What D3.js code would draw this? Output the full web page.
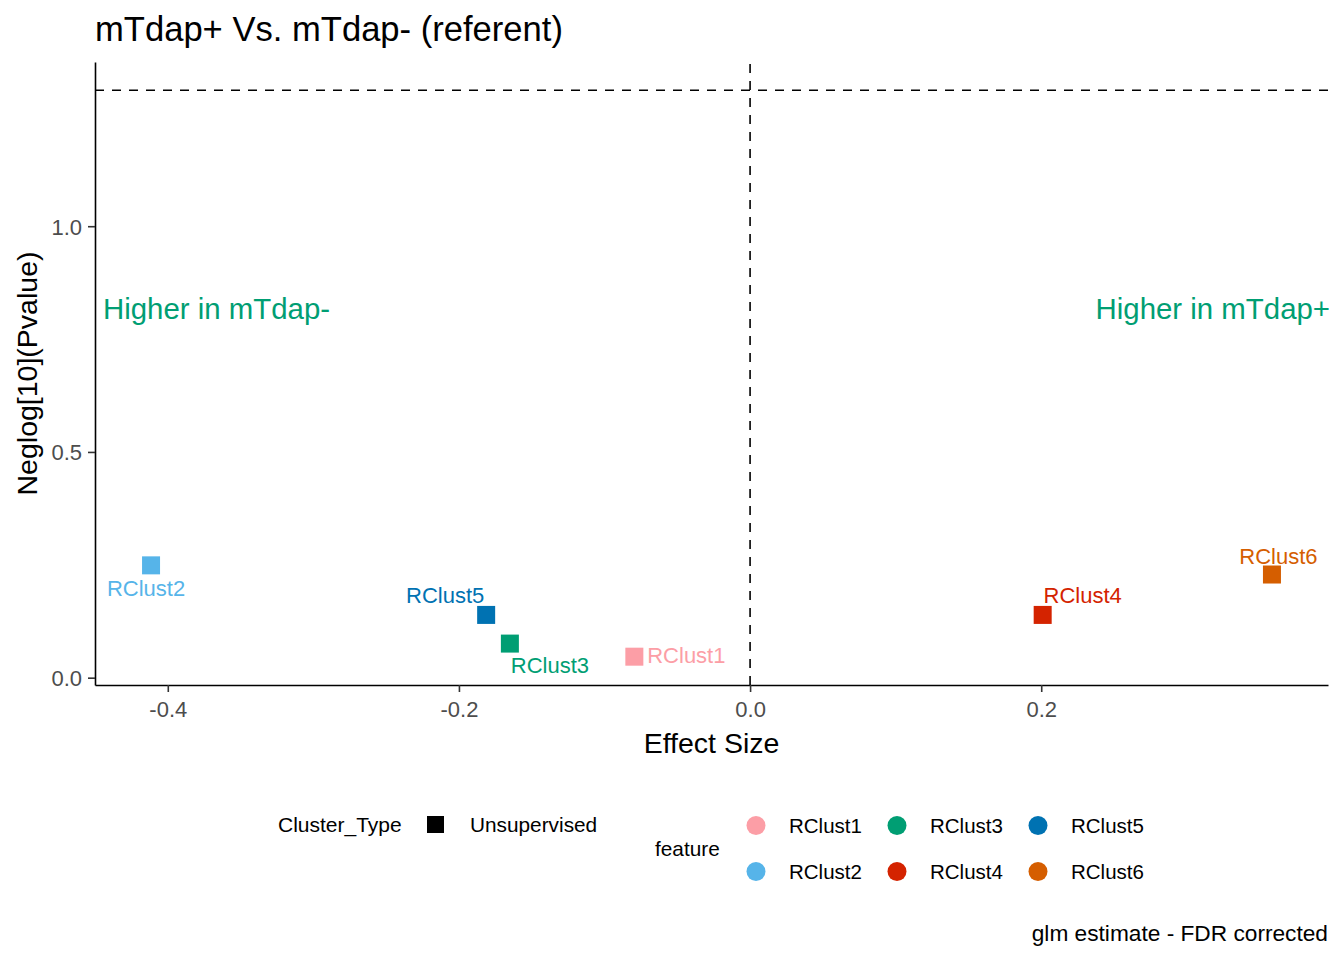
<!DOCTYPE html>
<html>
<head>
<meta charset="utf-8">
<script src="https://cdn.jsdelivr.net/npm/d3@7"></script>
<style>
  body { margin: 0; background: #fff; }
  text { font-family: "Liberation Sans", Arial, sans-serif; }
</style>
</head>
<body>
<svg id="chart" width="1344" height="960"></svg>
<script>
// values
const features = ["RClust1", "RClust2", "RClust3", "RClust4", "RClust5", "RClust6"];
const effectSize = [-0.0795, -0.4115, -0.165, 0.201, -0.1813, 0.3585];
const negLogP = [0.0465, 0.2488, 0.0755, 0.139, 0.139, 0.2285];
const clusterType = ["Unsupervised", "Unsupervised", "Unsupervised", "Unsupervised", "Unsupervised", "Unsupervised"];
const featureColors = ["#FC9EA6", "#56B4E9", "#009E73", "#D42300", "#0072B2", "#D55E00"];
const xTicks = [-0.4, -0.2, 0.0, 0.2];
const yTicks = [0.0, 0.5, 1.0];
const pThreshold = 1.301; // -log10(0.05)

// label nudges in pixels (text centre x, baseline y relative to point)
const labelNudge = {
  RClust1: [52, 6],
  RClust2: [-5, 31],
  RClust3: [40, 29],
  RClust4: [40, -11.5],
  RClust5: [-41, -11.5],
  RClust6: [6.5, -11]
};

const data = features.map((f, i) => ({
  feature: f,
  x: effectSize[i],
  y: negLogP[i],
  type: clusterType[i],
  color: featureColors[i]
}));

const margin = { top: 62, right: 16, bottom: 275, left: 95 },
    width = 1344 - margin.left - margin.right,
    height = 960 - margin.top - margin.bottom;

const svg = d3.select("#chart");
const g = svg.append("g")
    .attr("transform", `translate(${margin.left},${margin.top})`);

// ggplot-style 5% expansion
function expand(ext) {
  const pad = (ext[1] - ext[0]) * 0.05;
  return [ext[0] - pad, ext[1] + pad];
}

const x = d3.scaleLinear()
    .domain(expand(d3.extent(effectSize)))
    .range([0, width]);

const y = d3.scaleLinear()
    .domain(expand([d3.min(negLogP), Math.max(pThreshold, d3.max(negLogP))]))
    .range([height, 0]);

// reference lines
g.append("line")
    .attr("x1", 0).attr("x2", width)
    .attr("y1", y(pThreshold)).attr("y2", y(pThreshold))
    .attr("stroke", "#000").attr("stroke-width", 1.6)
    .attr("stroke-dasharray", "9,8");

g.append("line")
    .attr("x1", x(0)).attr("x2", x(0))
    .attr("y1", height).attr("y2", 0)
    .attr("stroke", "#000").attr("stroke-width", 1.6)
    .attr("stroke-dasharray", "9,8");

// axes
const xAxis = g.append("g")
    .attr("transform", `translate(0,${height})`)
    .call(d3.axisBottom(x).tickValues(xTicks).tickFormat(d3.format(".1f")).tickSize(7).tickSizeOuter(0).tickPadding(9));

const yAxis = g.append("g")
    .call(d3.axisLeft(y).tickValues(yTicks).tickFormat(d3.format(".1f")).tickSize(7).tickSizeOuter(0).tickPadding(6));

[xAxis, yAxis].forEach(ax => {
  ax.select(".domain").attr("stroke", "#000").attr("stroke-width", 1.6);
  ax.selectAll(".tick line").attr("stroke", "#333").attr("stroke-width", 1.6);
  ax.selectAll(".tick text")
      .attr("fill", "#4D4D4D")
      .style("font-size", "22px")
      .style("font-family", "'Liberation Sans', Arial, sans-serif");
});
xAxis.selectAll(".tick text").text(d => d3.format(".1f")(d).replace("−", "-"));
yAxis.selectAll(".tick text").attr("dy", "0.36em");

// points
const sq = 18;
g.selectAll(".pt")
    .data(data)
    .enter()
    .append("rect")
    .attr("class", "pt")
    .attr("x", d => x(d.x) - sq / 2)
    .attr("y", d => y(d.y) - sq / 2)
    .attr("width", sq)
    .attr("height", sq)
    .attr("fill", d => d.color);

// point labels
g.selectAll(".lbl")
    .data(data)
    .enter()
    .append("text")
    .attr("class", "lbl")
    .attr("x", d => x(d.x) + labelNudge[d.feature][0])
    .attr("y", d => y(d.y) + labelNudge[d.feature][1])
    .attr("text-anchor", "middle")
    .attr("fill", d => d.color)
    .style("font-size", "22px")
    .text(d => d.feature);

// direction annotations
g.append("text")
    .attr("x", 8)
    .attr("y", y(0.8) + 2)
    .attr("fill", "#009E73")
    .style("font-size", "29.4px")
    .text("Higher in mTdap-");

g.append("text")
    .attr("x", width + 2)
    .attr("y", y(0.8) + 2)
    .attr("text-anchor", "end")
    .attr("fill", "#009E73")
    .style("font-size", "29.4px")
    .text("Higher in mTdap+");

// titles
svg.append("text")
    .attr("x", 95).attr("y", 41)
    .attr("fill", "#000")
    .style("font-size", "34.6px")
    .text("mTdap+ Vs. mTdap- (referent)");

svg.append("text")
    .attr("x", margin.left + width / 2).attr("y", 753)
    .attr("text-anchor", "middle")
    .attr("fill", "#000")
    .style("font-size", "28.5px")
    .text("Effect Size");

svg.append("text")
    .attr("transform", `translate(37,${margin.top + height / 2}) rotate(-90)`)
    .attr("text-anchor", "middle")
    .attr("fill", "#000")
    .style("font-size", "28.5px")
    .text("Neglog[10](Pvalue)");

// legend: Cluster_Type
const types = Array.from(new Set(clusterType));
const legType = svg.append("g");
legType.append("text")
    .attr("x", 278).attr("y", 832)
    .style("font-size", "21px")
    .text("Cluster_Type");
types.forEach((t, i) => {
  legType.append("rect")
      .attr("x", 427).attr("y", 816 + i * 47)
      .attr("width", 17).attr("height", 17)
      .attr("fill", "#000");
  legType.append("text")
      .attr("x", 470).attr("y", 832 + i * 47)
      .style("font-size", "20.8px")
      .text(t);
});

// legend: feature
const legFeat = svg.append("g");
legFeat.append("text")
    .attr("x", 655).attr("y", 856)
    .style("font-size", "20.8px")
    .text("feature");
const colX = [756, 897, 1038];
const rowY = [825.5, 871.5];
features.forEach((f, i) => {
  const cx = colX[Math.floor(i / 2)], cy = rowY[i % 2];
  legFeat.append("circle")
      .attr("cx", cx).attr("cy", cy).attr("r", 9.5)
      .attr("fill", featureColors[i]);
  legFeat.append("text")
      .attr("x", cx + 33).attr("y", cy + 7.5)
      .style("font-size", "20.5px")
      .text(f);
});

// caption
svg.append("text")
    .attr("x", 1328).attr("y", 941)
    .attr("text-anchor", "end")
    .style("font-size", "22.7px")
    .text("glm estimate - FDR corrected");
</script>
</body>
</html>
